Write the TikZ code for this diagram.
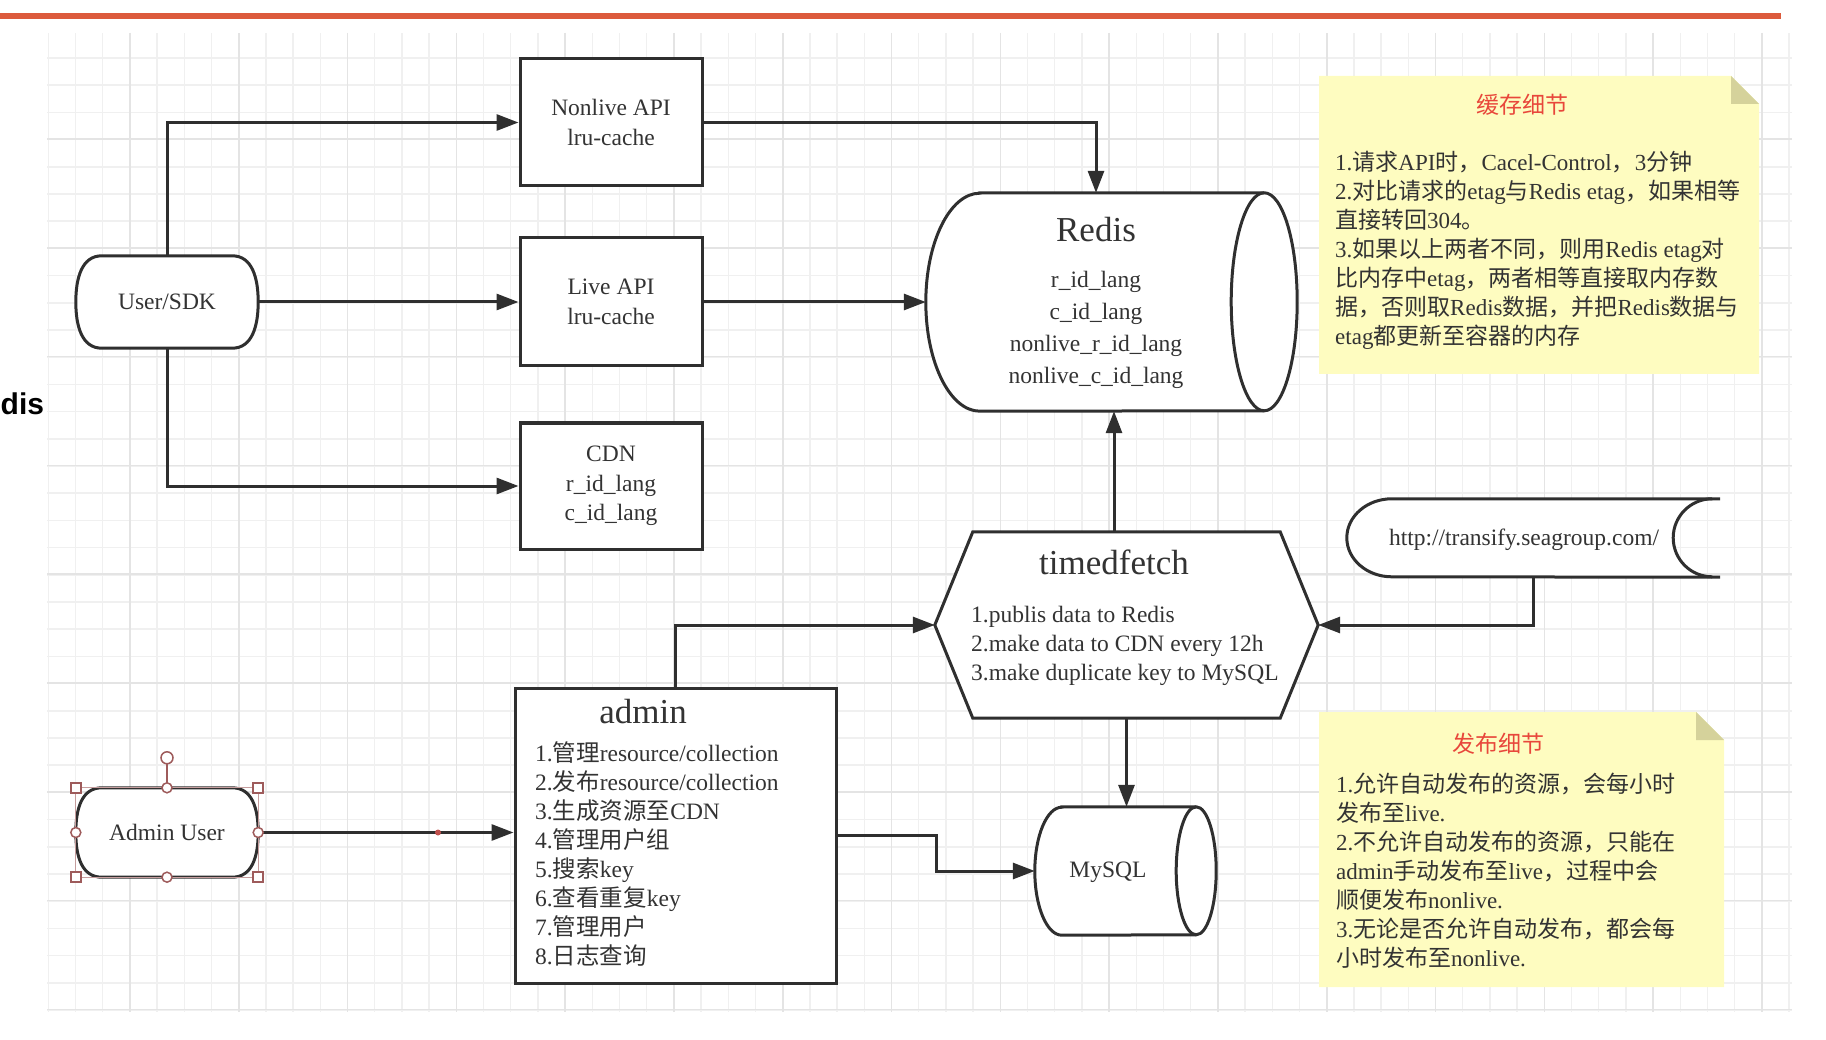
\documentclass[tikz,border=0pt]{standalone}
\usepackage{fontspec}
\setmainfont{Liberation Serif}
\setsansfont{Liberation Sans}
\newfontfamily\cjk{Noto Sans CJK SC}
\usetikzlibrary{arrows.meta,positioning}
\pgfdeclarelayer{grid}
\pgfdeclarelayer{shapes}
\pgfsetlayers{grid,shapes,main}

\definecolor{linegray}{HTML}{2F2F2F}
\definecolor{textgray}{HTML}{333333}
\definecolor{gridminor}{HTML}{F0F0F0}
\definecolor{gridmajor}{HTML}{E4E4E4}
\definecolor{topred}{HTML}{DC5A3C}
\definecolor{noteyellow}{HTML}{FEFCC0}
\definecolor{notefold}{HTML}{D5D29B}
\definecolor{notered}{HTML}{E8473B}
\definecolor{handlered}{HTML}{9E5B5B}
\definecolor{dotred}{HTML}{C0504D}

% Chinese characters go to the CJK font
\newXeTeXintercharclass\cjkclass
\makeatletter
\def\setcjkrange#1#2{\count@=#1\relax
  \loop\ifnum\count@<#2\relax
    \XeTeXcharclass\count@=\cjkclass
    \advance\count@ by 1
  \repeat}
\makeatother
\setcjkrange{"3000}{"3040}
\setcjkrange{"4E00}{"A000}
\setcjkrange{"FF00}{"FFF0}
\XeTeXinterchartoks 0 \cjkclass = {\cjk}
\XeTeXinterchartoks 4095 \cjkclass = {\cjk}
\XeTeXinterchartoks \cjkclass 0 = {\rmfamily}
\XeTeXinterchartoks \cjkclass 4095 = {\rmfamily}
\XeTeXinterchartokenstate=1

\begin{document}
\begin{tikzpicture}[x=1pt, y=-1pt,
    wire/.style={draw=linegray, line width=3pt},
    arrow/.style={draw=linegray, line width=3pt, -{Triangle[length=22pt, width=16pt]}},
    rectbox/.style={wire, fill=white, minimum width=182pt, inner sep=0pt, align=center, text=textgray, font=\fontsize{23.5}{29.5}\selectfont},
    hull/.style={inner sep=0pt, text=textgray, font=\fontsize{23.5}{29.5}\selectfont},
    title/.style={inner sep=0pt, text=textgray, font=\fontsize{35}{40}\selectfont},
    body/.style={inner sep=0pt, text=textgray, align=left, font=\fontsize{23.5}{29}\selectfont},
    notetitle/.style={inner sep=0pt, text=notered, font=\fontsize{23}{29}\selectfont},
    notebody/.style={inner sep=0pt, text=textgray, align=left, anchor=west, font=\fontsize{23}{29}\selectfont},
    handle/.style={draw=handlered, line width=1.5pt}]
    \useasboundingbox (0,0) rectangle (1826,1040);

    % grid paper
    \begin{pgfonlayer}{grid}
    \foreach \i in {0,...,64} \draw[gridminor, line width=1.5pt] (48.3+27.2*\i,33) -- (48.3+27.2*\i,1012);
    \foreach \j in {0,...,35} \draw[gridminor, line width=1.5pt] (47,58+27.2*\j) -- (1792,58+27.2*\j);
    \foreach \i in {0,...,15} \draw[gridmajor, line width=1.5pt] (130+108.8*\i,33) -- (130+108.8*\i,1012);
    \foreach \j in {0,...,8} \draw[gridmajor, line width=1.5pt] (47,139+108.8*\j) -- (1792,139+108.8*\j);
    \end{pgfonlayer}

    \draw[topred, line width=6pt] (0,16) -- (1781,16);
    \node[anchor=base west, inner sep=0pt, font=\sffamily\bfseries\fontsize{30}{34}\selectfont] (cutlabel) at (0.5,414) {dis};

    % clients and APIs
    \node[hull, minimum width=182pt, minimum height=92pt] (user) at (167,302) {User/SDK};
    \node[rectbox, minimum height=127pt] (nonlive) at (611,122.5) {Nonlive API\\lru-cache};
    \node[rectbox, minimum height=128pt] (live) at (611,302) {Live API\\lru-cache};
    \node[rectbox, minimum height=126pt] (cdn) at (611,486) {CDN\\r\_id\_lang\\c\_id\_lang};

    % Redis
    \node[hull, minimum width=371pt, minimum height=218pt] (redis) at (1111.5,302) {};
    \node[title] (redistitle) at (1096,230) {Redis};
    \node[body, align=center, font=\fontsize{23.5}{32}\selectfont] (redislist) at (1096,330) {r\_id\_lang\\c\_id\_lang\\nonlive\_r\_id\_lang\\nonlive\_c\_id\_lang};

    % timedfetch
    \node[hull, minimum width=383pt, minimum height=186pt] (timed) at (1126.5,625) {};
    \node[title] (timedtitle) at (1114,562) {timedfetch};
    \node[body, anchor=west] (timedlist) at (971,646) {1.publis data to Redis\\2.make data to CDN every 12h\\3.make duplicate key to MySQL};

    \node[hull, minimum width=373pt, minimum height=78pt] (url) at (1533.5,538) {};
    \node[hull] (urltext) at (1524,540) {http://transify.seagroup.com/};

    \node[hull, minimum width=181pt, minimum height=128pt] (mysql) at (1125.5,871) {};
    \node[hull] (mysqltext) at (1108,872) {MySQL};

    % admin
    \node[hull, minimum width=182pt, minimum height=89pt] (adminuser) at (167,832.5) {Admin User};
    \node[rectbox, minimum width=321pt, minimum height=295pt] (admin) at (675.5,835.5) {};
    \node[title] (admintitle) at (643,712) {admin};
    \node[body, anchor=west] (adminlist) at (535,853.5) {1.管理resource/collection\\2.发布resource/collection\\3.生成资源至CDN\\4.管理用户组\\5.搜索key\\6.查看重复key\\7.管理用户\\8.日志查询};

    % notes
    \node[notetitle] (cachetitle) at (1522,105) {缓存细节};
    \node[notebody] (cachelist) at (1335,250) {1.请求API时，Cacel-Control，3分钟\\2.对比请求的etag与Redis etag，如果相等\\直接转回304。\\3.如果以上两者不同，则用Redis etag对\\比内存中etag，两者相等直接取内存数\\据，否则取Redis数据，并把Redis数据与\\etag都更新至容器的内存};
    \node[notetitle] (pubtitle) at (1498,744) {发布细节};
    \node[notebody] (publist) at (1336,871) {1.允许自动发布的资源，会每小时\\发布至live.\\2.不允许自动发布的资源，只能在\\admin手动发布至live，过程中会\\顺便发布nonlive.\\3.无论是否允许自动发布，都会每\\小时发布至nonlive.};

    \begin{pgfonlayer}{shapes}
    \foreach \xa/\ya/\xb/\yb in {1319/76/1759/374,1319/712/1724/987} {
        \fill[noteyellow] (\xa,\ya) -- (\xb-28,\ya) -- (\xb,\ya+28) -- (\xb,\yb) -- (\xa,\yb) -- cycle;
        \fill[notefold] (\xb-28,\ya) -- (\xb-28,\ya+28) -- (\xb,\ya+28) -- cycle;
    }
    \foreach \n in {user,adminuser}
        \draw[wire, fill=white] ([xshift=26pt]\n.north west) -- ([xshift=-26pt]\n.north east)
            .. controls ([xshift=-6pt]\n.north east) and ([yshift=24pt]\n.east) .. (\n.east)
            .. controls ([yshift=-24pt]\n.east) and ([xshift=-6pt]\n.south east) .. ([xshift=-26pt]\n.south east)
            -- ([xshift=26pt]\n.south west)
            .. controls ([xshift=6pt]\n.south west) and ([yshift=-24pt]\n.west) .. (\n.west)
            .. controls ([yshift=24pt]\n.west) and ([xshift=6pt]\n.north west) .. ([xshift=26pt]\n.north west) -- cycle;
    \draw[wire, fill=white] ([xshift=54pt]redis.north west) -- ([xshift=-33pt]redis.north east)
        arc[start angle=90, end angle=-90, x radius=33pt, y radius=109pt]
        -- ([xshift=54pt]redis.south west)
        arc[start angle=270, end angle=90, x radius=54pt, y radius=109pt] -- cycle;
    \draw[wire] ([xshift=-33pt]redis.north east) arc[start angle=90, end angle=270, x radius=33pt, y radius=109pt];
    \draw[wire, fill=white] (timed.west) -- ([xshift=38pt]timed.north west) -- ([xshift=-38pt]timed.north east)
        -- (timed.east) -- ([xshift=-38pt]timed.south east) -- ([xshift=38pt]timed.south west) -- cycle;
    \fill[white] ([xshift=45pt]url.north west) -- ([xshift=-8pt]url.north east)
        arc[start angle=90, end angle=270, x radius=39pt, y radius=39pt]
        -- ([xshift=45pt]url.south west)
        arc[start angle=270, end angle=90, x radius=45pt, y radius=39pt] -- cycle;
    \draw[wire] (url.north east) -- ([xshift=45pt]url.north west)
        arc[start angle=90, end angle=270, x radius=45pt, y radius=39pt] -- (url.south east);
    \draw[wire] ([xshift=-8pt]url.north east) arc[start angle=90, end angle=270, x radius=39pt, y radius=39pt];
    \draw[wire, fill=white] ([xshift=27pt]mysql.north west) -- ([xshift=-20pt]mysql.north east)
        arc[start angle=90, end angle=-90, x radius=20pt, y radius=64pt]
        -- ([xshift=27pt]mysql.south west)
        arc[start angle=270, end angle=90, x radius=27pt, y radius=64pt] -- cycle;
    \draw[wire] ([xshift=-20pt]mysql.north east) arc[start angle=90, end angle=270, x radius=20pt, y radius=64pt];
    \end{pgfonlayer}

    % connectors
    \draw[arrow] (user.north) |- (nonlive.west);
    \draw[arrow] (user) -- (live);
    \draw[arrow] (user.south) |- (cdn.west);
    \draw[arrow] (nonlive.east) -| ([xshift=-15.5pt]redis.north);
    \draw[arrow] (live) -- (redis);
    \draw[arrow] (timedtitle.north |- timed.north) -- (timedtitle.north |- redis.south);
    \draw[arrow] (url.south) |- (timed.east);
    \draw[arrow] (timed.south) -- (timed.south |- mysql.north);
    \draw[arrow] (admin.north) |- (timed.west);
    \draw[arrow] (adminuser) -- (adminuser -| admin.west);
    \draw[arrow] (admin.east) -- ++(99,0) |- (mysql.west);
    \fill[dotred] (438,832.5) circle[radius=3pt];

    % selection handles
    \draw[handlered!60, line width=0.8pt] (adminuser.north west) rectangle (adminuser.south east);
    \draw[handle] (adminuser.north) -- ([yshift=24pt]adminuser.north);
    \draw[handle, fill=white] ([yshift=30pt]adminuser.north) circle[radius=6pt];
    \foreach \a in {north,south,east,west} \draw[handle, fill=white] (adminuser.\a) circle[radius=5pt];
    \foreach \a in {north west,north east,south west,south east} \draw[handle, fill=white] ([shift={(-5pt,-5pt)}]adminuser.\a) rectangle ++(10pt,10pt);
\end{tikzpicture}
\end{document}
